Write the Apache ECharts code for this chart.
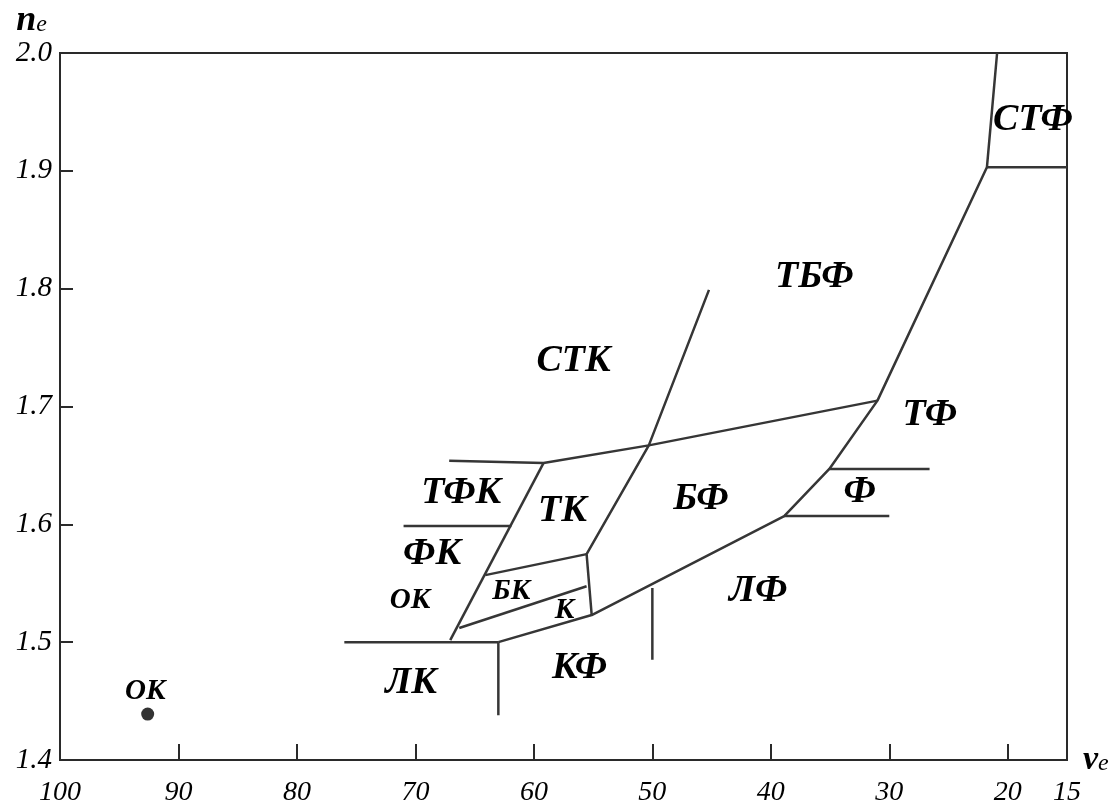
<!DOCTYPE html>
<html>
<head>
<meta charset="utf-8">
<script src="https://cdn.jsdelivr.net/npm/echarts@6/dist/echarts.min.js"></script>
<style>html,body{margin:0;padding:0;background:#fff}#c{width:1112px;height:805px}</style>
</head>
<body>
<div id="c"></div>
<script>
// Axis ticks
const xTickValues = [90, 80, 70, 60, 50, 40, 30, 20];
const xLabelValues = [100, 90, 80, 70, 60, 50, 40, 30, 20, 15];
const yTickValues = [1.5, 1.6, 1.7, 1.8, 1.9];
const yLabelValues = [1.4, 1.5, 1.6, 1.7, 1.8, 1.9, 2.0];

// Region boundary polylines: [nu_e, n_e]
const mainBoundary = [[20.9, 2.0], [21.76, 1.903], [31.0, 1.705], [35.06, 1.647], [38.87, 1.607], [55.12, 1.523], [63.0, 1.5]];
const stfBottom = [[15, 1.903], [21.76, 1.903]];
const tbfLine = [[31.0, 1.705], [50.3, 1.667], [59.19, 1.652], [67.15, 1.654]];
const stkDiagonal = [[45.22, 1.799], [50.3, 1.667], [55.55, 1.5747], [55.12, 1.523]];
const tkBottom = [[55.55, 1.5747], [64.1, 1.5569]];
const tkLeft = [[59.19, 1.652], [67.06, 1.5017]];
const tfkLine = [[71.0, 1.5985], [61.9, 1.5985]];
const kLine = [[66.3, 1.512], [55.55, 1.5475]];
const lkLine = [[76.0, 1.5], [63.0, 1.5]];
const lkVertical = [[63.0, 1.5], [63.0, 1.438]];
const kfVertical = [[50.0, 1.546], [50.0, 1.485]];
const fTop = [[35.06, 1.647], [26.6, 1.647]];
const fBottom = [[38.87, 1.607], [30.0, 1.607]];
const boundaries = [mainBoundary, stfBottom, tbfLine, stkDiagonal, tkBottom, tkLeft, tfkLine, kLine, lkLine, lkVertical, kfVertical, fTop, fBottom];

// Single glass point
const okPoint = [[92.6, 1.439]];

// Region labels: [nu_e, n_e, text]
const bigLabels = [
  [17.87, 1.943, 'СТФ'],
  [36.33, 1.810, 'ТБФ'],
  [56.65, 1.7385, 'СТК'],
  [26.59, 1.6927, 'ТФ'],
  [32.51, 1.6273, 'Ф'],
  [66.13, 1.6265, 'ТФК'],
  [57.58, 1.6112, 'ТК'],
  [68.59, 1.5747, 'ФК'],
  [45.9, 1.6214, 'БФ'],
  [41.07, 1.5433, 'ЛФ'],
  [56.14, 1.478, 'КФ'],
  [70.36, 1.465, 'ЛК']
];
const smallLabels = [
  [70.45, 1.5357, 'ОК'],
  [61.9, 1.5433, 'БК'],
  [57.41, 1.5272, 'К'],
  [92.8, 1.4584, 'ОК']
];

const FONT = "'Liberation Serif', 'DejaVu Serif', serif";
const lineColor = '#363636';

const series = boundaries.map(function (pts) {
  return {
    type: 'line', data: pts, symbol: 'none', silent: true, animation: false,
    lineStyle: { color: lineColor, width: 2.5 }, z: 3
  };
});
series.push({
  type: 'scatter', data: okPoint, symbolSize: 13, silent: true, animation: false,
  itemStyle: { color: '#333', opacity: 1 }, z: 4
});
function labelSeries(arr, size) {
  return {
    type: 'scatter', silent: true, animation: false, symbolSize: 0,
    itemStyle: { opacity: 1 },
    data: arr.map(function (d) { return { value: [d[0], d[1]], name: d[2] }; }),
    label: {
      show: true, position: 'inside', formatter: '{b}', opacity: 1,
      fontFamily: FONT, fontStyle: 'italic', fontWeight: 'bold',
      fontSize: size, color: '#000'
    },
    z: 5
  };
}
series.push(labelSeries(bigLabels, 38));
series.push(labelSeries(smallLabels, 29));

const chart = echarts.init(document.getElementById('c'), null, { renderer: 'canvas' });
chart.setOption({
  animation: false,
  backgroundColor: '#fff',
  grid: {
    left: 60, right: 45, top: 53, bottom: 45,
    show: true, borderColor: '#2a2a2a', borderWidth: 2,
    containLabel: false, outerBoundsMode: 'none'
  },
  xAxis: {
    type: 'value', min: 15, max: 100, inverse: true,
    name: '{n|ν}{e|e}', nameLocation: 'start', nameGap: 16,
    nameTextStyle: {
      rich: {
        n: { fontFamily: FONT, fontStyle: 'italic', fontWeight: 'bold', fontSize: 34, color: '#000' },
        e: { fontFamily: FONT, fontStyle: 'italic', fontSize: 24, color: '#000', padding: [8, 0, 0, 0] }
      }
    },
    axisLine: { show: false },
    splitLine: { show: false },
    axisTick: { show: true, inside: true, length: 16, customValues: xTickValues, lineStyle: { color: '#2a2a2a', width: 2 } },
    axisLabel: {
      customValues: xLabelValues, margin: 19,
      fontFamily: FONT, fontStyle: 'italic', fontSize: 28, color: '#000'
    }
  },
  yAxis: {
    type: 'value', min: 1.4, max: 2.0,
    name: '{n|n}{e|e}', nameLocation: 'end', nameGap: 3,
    nameTextStyle: {
      align: 'right', padding: [0, 13, 0, 0],
      rich: {
        n: { fontFamily: FONT, fontStyle: 'italic', fontWeight: 'bold', fontSize: 36, color: '#000' },
        e: { fontFamily: FONT, fontStyle: 'italic', fontSize: 24, color: '#000', padding: [8, 0, 0, 0] }
      }
    },
    axisLine: { show: false },
    splitLine: { show: false },
    axisTick: { show: true, inside: true, length: 13, customValues: yTickValues, lineStyle: { color: '#2a2a2a', width: 2 } },
    axisLabel: {
      customValues: yLabelValues, margin: 8,
      formatter: function (v) { return v.toFixed(1); },
      fontFamily: FONT, fontStyle: 'italic', fontSize: 29, color: '#000'
    }
  },
  series: series
});
</script>
</body>
</html>
